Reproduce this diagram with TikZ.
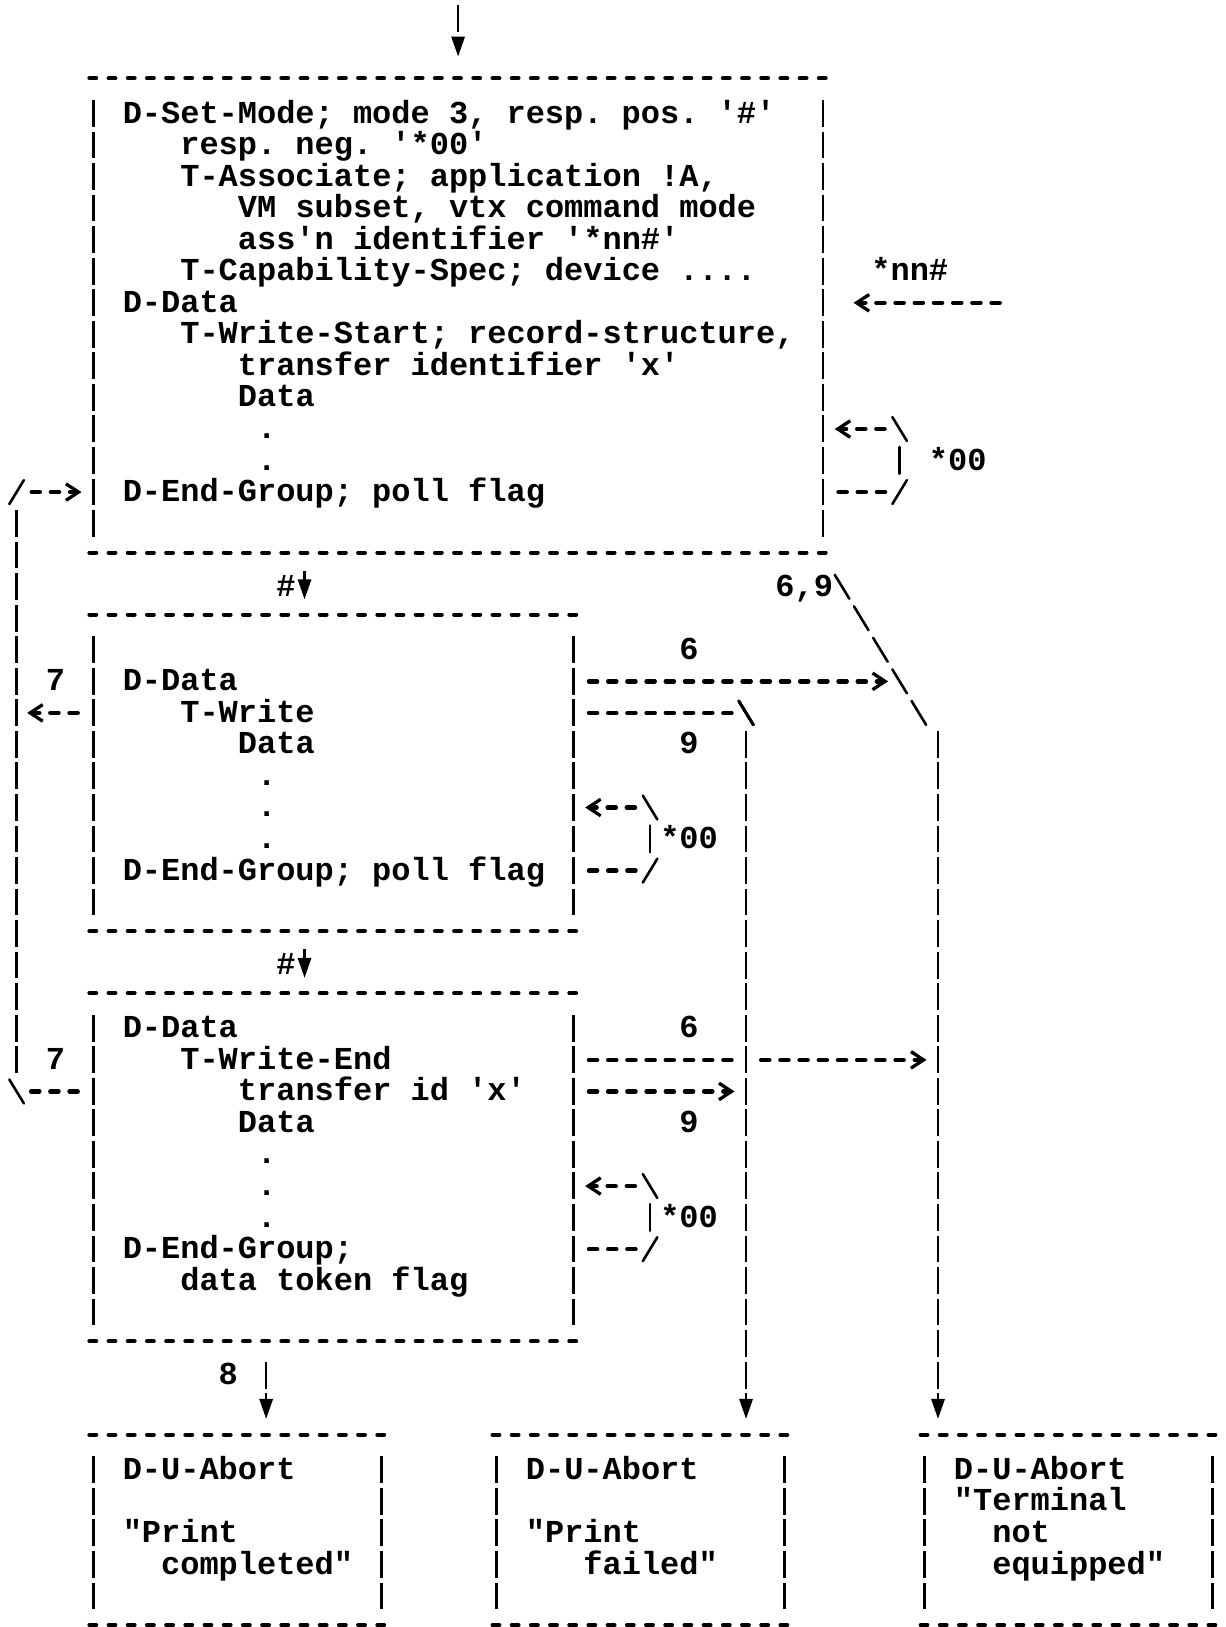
\documentclass[tikz,border=0pt]{standalone}
\usepackage{fontspec}
\setmonofont{Liberation Mono}
\usetikzlibrary{arrows.meta, fit}

\tikzset{
  rulerow/.style={line width=1.4pt, line cap=round, dash pattern=on 2.4pt off 4.3155pt, dash phase=4.56pt},
  lnk/.style={line width=1.5pt, line cap=round, dash pattern=on 2.9pt off 3.8155pt, dash phase=4.81pt},
  side/.style={line width=0.9pt, dash pattern=on 9.38pt off 1.655pt},
  stroke/.style={line width=0.9pt, line cap=round},
  dn/.style={-{Triangle[length=7pt,width=4.6pt]}},
  txt/.style={anchor=base west, inner sep=0pt, font=\ttfamily\bfseries\fontsize{11.19}{11}\selectfont},
}

% box drawn as rows of dashes and columns of bars: name, first col, top row, last col, bottom row
\newcommand{\scrbox}[5]{%
  \node[fit={(#2-0.5,#3) (#4+0.5,#5)}, inner sep=0pt] (#1) {};
  \draw[rulerow] (#1.north west) -- (#1.north east);
  \draw[rulerow] (#1.south west) -- (#1.south east);
  \draw[side] (#2,#3+0.67) -- (#2,#5-0.48);
  \draw[side] (#4,#3+0.67) -- (#4,#5-0.48);
}
\newcommand{\glyphbs}[2]{\draw[stroke] (#1-0.38,#2-0.28) -- (#1+0.38,#2+0.48);}
\newcommand{\glyphfs}[2]{\draw[stroke] (#1+0.38,#2-0.28) -- (#1-0.38,#2+0.48);}
\newcommand{\glyphvb}[2]{\draw[stroke] (#1,#2-0.33) -- (#1,#2+0.52);}

\begin{document}
\begin{tikzpicture}[x=6.7155pt, y=-11.0352pt, >={Straight Barb[length=4.4pt,width=5.8pt,line width=1.15pt]}]
  \useasboundingbox (-4.865,-2.5) rectangle (58.973,49.079);

  % Boxes
  \scrbox{setmode}{0}{0}{38}{15}
  \scrbox{wrt}{0}{17}{25}{27}
  \scrbox{wrtend}{0}{29}{25}{40}
  \scrbox{done}{0}{43}{15}{49}
  \scrbox{fail}{21}{43}{36}{49}
  \scrbox{noequip}{43.3}{43}{58.3}{49}

  % Box texts
  \foreach \rw/\cl/\tx [count=\i] in {
      1/2/{D-Set-Mode; mode 3, resp. pos. '\#'},
      2/5/{resp. neg. '*00'},
      3/5/{T-Associate; application !A,},
      4/8/{VM subset, vtx command mode},
      5/8/{ass'n identifier '*nn\#'},
      6/5/{T-Capability-Spec; device ....},
      7/2/{D-Data},
      8/5/{T-Write-Start; record-structure,},
      9/8/{transfer identifier 'x'},
      10/8/{Data},
      11/9/{.},
      12/9/{.},
      13/2/{D-End-Group; poll flag}}
    \node[txt] (setmode-\i) at (\cl-0.5,\rw+0.4) {\tx};

  \foreach \rw/\cl/\tx [count=\i] in {
      19/2/{D-Data}, 20/5/{T-Write}, 21/8/{Data},
      22/9/{.}, 23/9/{.}, 24/9/{.},
      25/2/{D-End-Group; poll flag}}
    \node[txt] (wrt-\i) at (\cl-0.5,\rw+0.4) {\tx};

  \foreach \rw/\cl/\tx [count=\i] in {
      30/2/{D-Data}, 31/5/{T-Write-End}, 32/8/{transfer id 'x'}, 33/8/{Data},
      34/9/{.}, 35/9/{.}, 36/9/{.},
      37/2/{D-End-Group;}, 38/5/{data token flag}}
    \node[txt] (wrtend-\i) at (\cl-0.5,\rw+0.4) {\tx};

  \foreach \rw/\cl/\tx [count=\i] in {
      44/2/{D-U-Abort}, 46/2/{"Print}, 47/4/{completed"},
      44/23/{D-U-Abort}, 46/23/{"Print}, 47/26/{failed"},
      44/45.3/{D-U-Abort}, 45/45.3/{"Terminal}, 46/47.3/{not}, 47/47.3/{equipped"}}
    \node[txt] (abort-\i) at (\cl-0.5,\rw+0.4) {\tx};

  % Labels
  \node[txt] (lbl-nn) at (40.5,6.4) {*nn\#};
  \node[txt] (lbl-00a) at (43.5,12.4) {*00};
  \node[txt] (lbl-69) at (35.5,16.4) {6,9};
  \node[txt] (lbl-h1) at (9.5,16.4) {\#};
  \node[txt] (lbl-h2) at (9.5,28.4) {\#};
  \node[txt] (lbl-6a) at (30.5,18.4) {6};
  \node[txt] (lbl-9a) at (30.5,21.4) {9};
  \node[txt] (lbl-00b) at (29.5,24.4) {*00};
  \node[txt] (lbl-6b) at (30.5,30.4) {6};
  \node[txt] (lbl-9b) at (30.5,33.4) {9};
  \node[txt] (lbl-00c) at (29.5,36.4) {*00};
  \node[txt] (lbl-7a) at (-2.5,19.4) {7};
  \node[txt] (lbl-7b) at (-2.5,31.4) {7};
  \node[txt] (lbl-8) at (6.5,41.4) {8};

  % Down arrows
  \coordinate (src) at (19,-2.33);
  \draw[side, dn, shorten >=7.6pt] (src) -- (src |- setmode.north);
  \coordinate (hash1) at (11,15.6);
  \draw[side, dn, shorten >=5.3pt] (hash1) -- (hash1 |- wrt.north);
  \coordinate (hash2) at (11,27.6);
  \draw[side, dn, shorten >=5.3pt] (hash2) -- (hash2 |- wrtend.north);
  \coordinate (eight) at (9,40.67);
  \draw[side, dn, shorten >=5.5pt] (eight) -- (eight |- done.north);
  \coordinate (nine) at (34,20.67);
  \draw[side, dn, shorten >=5.5pt] (nine) -- (nine |- fail.north);
  \coordinate (sixnine) at (44,20.67);
  \draw[side, dn, shorten >=5.5pt] (sixnine) -- (sixnine |- noequip.north);

  % Incoming *nn#
  \coordinate (nnsrc) at (47.5,7.1);
  \draw[lnk, ->, shorten >=7.2pt] (nnsrc) -- (setmode.east |- nnsrc);

  % *00 loops
  \coordinate (la1) at (41.5,11.1);
  \coordinate (la2) at (41.5,13.1);
  \draw[lnk, ->, shorten >=0.6pt] (la1) -- (setmode.east |- la1);
  \draw[lnk] (setmode.east |- la2) -- (la2);
  \glyphbs{42}{11} \glyphvb{42}{12} \glyphfs{42}{13}

  \coordinate (lb1) at (28.5,23.1);
  \coordinate (lb2) at (28.5,25.1);
  \draw[lnk, ->, shorten >=0.6pt] (lb1) -- (wrt.east |- lb1);
  \draw[lnk] (wrt.east |- lb2) -- (lb2);
  \glyphbs{29}{23} \glyphvb{29}{24} \glyphfs{29}{25}

  \coordinate (lc1) at (28.5,35.1);
  \coordinate (lc2) at (28.5,37.1);
  \draw[lnk, ->, shorten >=0.6pt] (lc1) -- (wrtend.east |- lc1);
  \draw[lnk] (wrtend.east |- lc2) -- (lc2);
  \glyphbs{29}{35} \glyphvb{29}{36} \glyphfs{29}{37}

  % Return path on the left (7)
  \coordinate (back-in) at (-3.5,13.1);
  \coordinate (back-mid) at (-3.45,20.1);
  \coordinate (back-out) at (-3.5,32.1);
  \draw[lnk, ->, shorten >=0.6pt] (back-in) -- (setmode.west |- back-in);
  \draw[lnk, ->] (wrt.west |- back-mid) -- (back-mid);
  \draw[lnk] (wrtend.west |- back-out) -- (back-out);
  \draw[side] (-4,13.67) -- (-4,31.52);
  \glyphfs{-4}{13} \glyphbs{-4}{32}

  % Paths 6 and 9
  \foreach \k in {0,...,4} \glyphbs{39+\k}{16+\k}
  \glyphbs{34}{20}
  \coordinate (w6) at (41.4,19.1);
  \coordinate (w9) at (33.5,20.1);
  \draw[lnk, ->] (wrt.east |- w6) -- (w6);
  \draw[lnk] (wrt.east |- w9) -- (w9);

  \coordinate (e6a) at (33.5,31.1);
  \coordinate (e6b) at (34.5,31.1);
  \coordinate (e6c) at (43.4,31.1);
  \coordinate (e9) at (33.4,32.1);
  \draw[lnk] (wrtend.east |- e6a) -- (e6a);
  \draw[lnk, ->] (e6b) -- (e6c);
  \draw[lnk, ->] (wrtend.east |- e9) -- (e9);
\end{tikzpicture}
\end{document}
